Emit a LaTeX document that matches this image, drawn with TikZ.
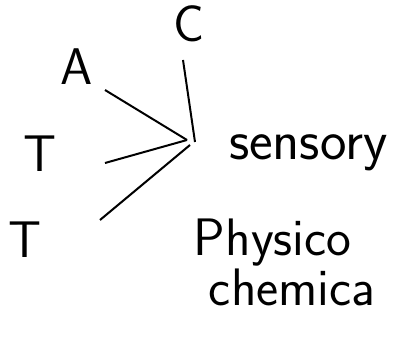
\documentclass[tikz,border=0pt]{standalone}
\begin{document}
\begin{tikzpicture}[x=0.03cm,y=-0.03cm,line width=1.7pt,
  letter/.style={font=\sffamily\fontsize{44}{44}\selectfont,anchor=base,inner sep=0pt},
  word/.style={font=\sffamily\fontsize{45}{46}\selectfont,anchor=base west,inner sep=0pt}]
	\useasboundingbox (0,0) rectangle (397,344);
	\node [letter] (C) at (189,42) {C};
	\node [letter] (A) at (77,85) {A};
	\node [letter] (T1) at (40,172) {T};
	\node [letter] (T2) at (25,257) {T};
	\coordinate (hub) at (187,140);
	\coordinate (cTop) at (183,60);
	\coordinate (cBot) at (195,142);
	\coordinate (aEnd) at (105,90);
	\coordinate (tEnd) at (105,163);
	\coordinate (uEnd) at (100,220);
	\coordinate (uHub) at (190,145);
	\draw (cTop) -- (cBot);
	\draw (aEnd) -- (hub);
	\draw (tEnd) -- (hub);
	\draw (uEnd) -- (uHub);
	\node [word,font=\sffamily\fontsize{48}{48}\selectfont] (sensory) at (228,160) {sensory};
	\node [word] (physico) at (193,255) {Physico};
	\node [word] (chemica) at (208,305) {chemica};
\end{tikzpicture}
\end{document}
